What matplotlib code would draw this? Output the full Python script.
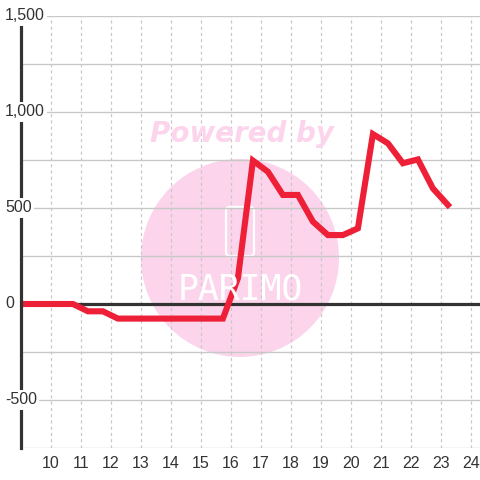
import matplotlib.pyplot as plt
from matplotlib.patches import Circle, FancyBboxPatch
from matplotlib.transforms import blended_transform_factory

# values
hours = [8.73, 9.23, 9.73, 10.23, 10.73, 11.23, 11.73, 12.23, 12.73, 13.23,
         13.73, 14.23, 14.73, 15.23, 15.73, 16.23, 16.73, 17.23, 17.73, 18.23,
         18.73, 19.23, 19.73, 20.23, 20.73, 21.23, 21.73, 22.23, 22.73, 23.23]
values = [0, 0, 0, 0, 0, -38, -38, -76, -76, -76,
          -76, -76, -76, -76, -76, 134, 747, 689, 568, 568,
          429, 359, 359, 394, 885, 837, 733, 753, 602, 516]
xticks = list(range(10, 25))
yticks = [1500, 1000, 500, 0, -500]
ylabels = ['1,500', '1,000', '500', '0', '-500']

plt.rcParams['font.family'] = ['Liberation Sans', 'DejaVu Sans']

fig = plt.figure(figsize=(4.8, 4.8), dpi=100)
ax = fig.add_axes([20.5 / 480, 32 / 480, 1 - 20.5 / 480, 432 / 480])
ax.set_xlim(8.983, 24.3)
ax.set_ylim(-750, 1500)

# watermark
pink = '#fcd5ec'
def fig_px(x, y):
    return (x / 480, 1 - y / 480)

ax.add_patch(Circle(fig_px(240, 258), 99 / 480, transform=fig.transFigure,
                    facecolor=pink, edgecolor='none', zorder=0.2))
ax.add_patch(FancyBboxPatch(fig_px(226, 256), 28 / 480, 49 / 480,
                            boxstyle='round,pad=0,rounding_size=0.008',
                            transform=fig.transFigure, facecolor='none',
                            edgecolor='white', lw=1.6, zorder=0.3))
fig.text(*fig_px(240, 290), 'PARIMO', family='DejaVu Sans Mono', fontsize=25,
         color='white', ha='center', va='center', zorder=0.3)
fig.text(*fig_px(242, 134), 'Powered by', family='DejaVu Sans', fontsize=20,
         fontweight='bold', style='italic', color=pink, ha='center', va='center',
         zorder=0.2)

for yv in range(-750, 1501, 250):
    ax.axhline(yv, color='#c8c8c8', lw=1, zorder=0.5)
for xv in xticks:
    ax.axvline(xv, color='#c8c8c8', lw=0.9, ls=(0, (2.5, 2.5)), zorder=0.5)

ax.axhline(0, color='#333333', lw=2.3, zorder=2)
ax.plot(hours, values, color='#ee2038', lw=4.4, solid_joinstyle='miter', zorder=3)

for sp in ['top', 'right', 'bottom']:
    ax.spines[sp].set_visible(False)
ax.spines['left'].set_color('#333333')
ax.spines['left'].set_linewidth(2.3)
ax.spines['left'].set_zorder(4)

ax.set_xticks(xticks)
ax.set_xticklabels([str(t) for t in xticks])
ax.tick_params(axis='x', length=0, pad=6, labelsize=11.5, labelcolor='#333333')
ax.set_yticks([])

trans = blended_transform_factory(fig.transFigure, ax.transData)
for yv, lab in zip(yticks, ylabels):
    ax.text(5 / 480, yv, lab, transform=trans,
            fontsize=11.5, color='#333333', ha='left', va='center', zorder=5,
            bbox=dict(facecolor='white', edgecolor='none', pad=1.5))

fig.savefig('out.png')
